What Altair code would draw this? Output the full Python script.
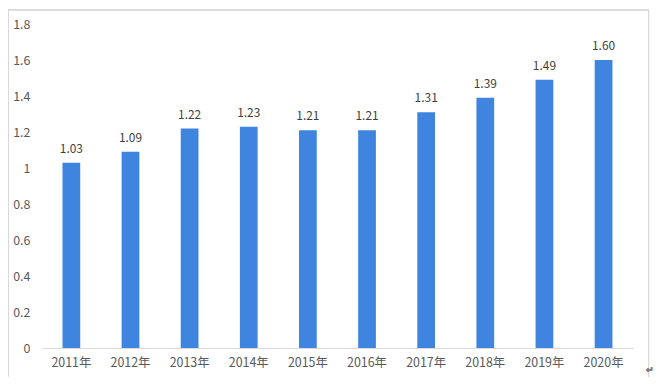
import altair as alt
import pandas as pd

years = ["2011年", "2012年", "2013年", "2014年", "2015年", "2016年", "2017年", "2018年", "2019年", "2020年"]
values = [1.03, 1.09, 1.22, 1.23, 1.21, 1.21, 1.31, 1.39, 1.49, 1.60]
labels = ["1.03", "1.09", "1.22", "1.23", "1.21", "1.21", "1.31", "1.39", "1.49", "1.60"]
y_ticks = [0, 0.2, 0.4, 0.6, 0.8, 1.0, 1.2, 1.4, 1.6, 1.8]

df = pd.DataFrame({"year": years, "value": values, "label": labels})

FONT = "Noto Sans CJK SC"
TXT = "#595959"
W, H = 595, 326

x = alt.X("year:N", sort=years, title=None,
          scale=alt.Scale(paddingInner=0.7, paddingOuter=0.35),
          axis=alt.Axis(labelAngle=0, ticks=False, labelPadding=9, domainColor="#D9D9D9",
                        labelColor=TXT, labelFont=FONT, labelFontSize=12.5))
y = alt.Y("value:Q", title=None,
          scale=alt.Scale(domain=[0, 1.8], nice=False),
          axis=alt.Axis(values=y_ticks, labelExpr="format(datum.value, '~g')", grid=False, domain=False,
                        ticks=False, labelPadding=12, labelOverlap=False, labelColor=TXT,
                        labelFont=FONT, labelFontSize=12.5))

bars = alt.Chart(df).mark_bar(color="#3F84DF").encode(x=x, y=y)
text = alt.Chart(df).mark_text(baseline="bottom", dy=-7, font=FONT, fontSize=12, color="#404040").encode(
    x=x, y=y, text="label:N")

frame = alt.Chart(df).mark_rect(fill=None, stroke="#D9D9D9", strokeWidth=1).encode(
    x=alt.value(-33.5), x2=alt.value(610.5), y=alt.value(-14.5), y2=alt.value(400))

mark = alt.Chart(df).mark_text(text="↵", fontSize=9, color="#808080", font=FONT).encode(
    x=alt.value(612), y=alt.value(348))

chart = alt.layer(frame, bars, text, mark).properties(
    width=W, height=H,
    padding={"left": 34, "top": 15, "right": 22, "bottom": 28},
    autosize=alt.AutoSizeParams(type="none"),
).configure_view(stroke=None).configure_axis(labelOverlap=False)

chart.save("out.html", embed_options={"renderer": "svg", "actions": False})
